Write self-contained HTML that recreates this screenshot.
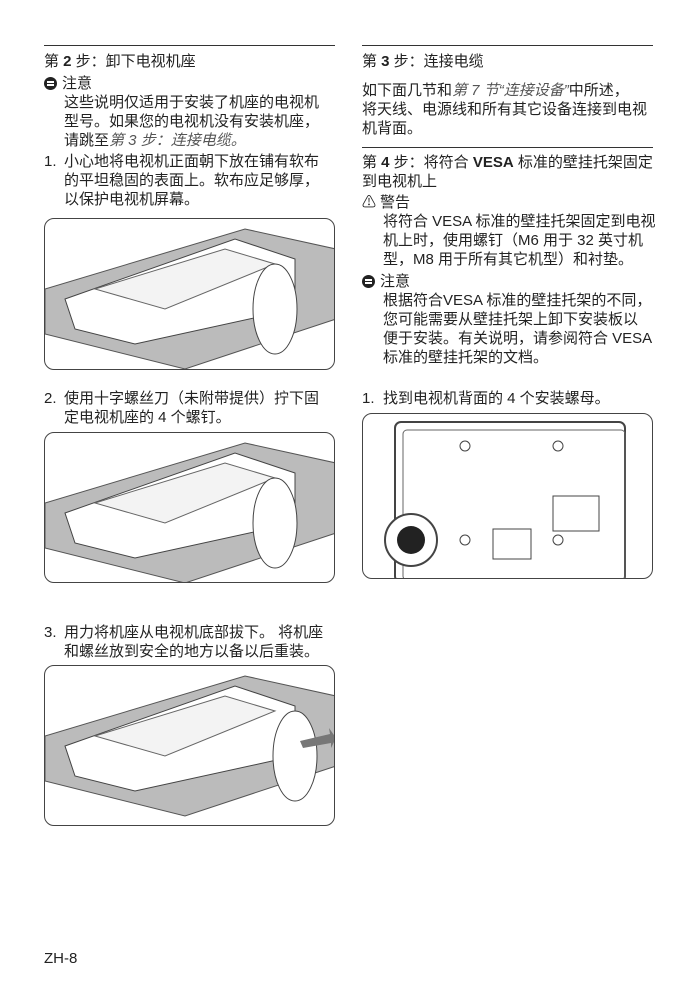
<!DOCTYPE html>
<html><head><meta charset="utf-8"><style>
body{margin:0;width:698px;height:989px;background:#fff;position:relative;font-family:"Liberation Sans","Noto Sans CJK SC",sans-serif;color:#222;font-size:15px;}
.t{position:absolute;line-height:19px;white-space:nowrap;}
.rule{position:absolute;height:1px;background:#333;}
.box{position:absolute;border:1px solid #444;border-radius:10px;overflow:hidden;box-sizing:border-box}
i{font-style:italic;color:#555}
.ic{display:inline-block;width:13px;height:13px;border-radius:50%;background:#222;vertical-align:-2px;margin-right:5px;position:relative}
.ic:after{content:"";position:absolute;left:3px;top:4px;width:7px;height:1.5px;background:#fff;box-shadow:0 3px 0 #fff}
</style></head><body>
<div class="rule" style="left:44px;top:45px;width:291px"></div>
<div class="t" style="left:44px;top:52px">第 <b>2</b> 步：卸下电视机座</div>
<div class="t" style="left:44px;top:74px"><span class="ic"></span>注意</div>
<div class="t" style="left:64px;top:93px">这些说明仅适用于安装了机座的电视机<br>型号。如果您的电视机没有安装机座，<br>请跳至<i>第 3 步：连接电缆。</i></div>
<div class="t" style="left:44px;top:152px">1.</div>
<div class="t" style="left:64px;top:152px">小心地将电视机正面朝下放在铺有软布<br>的平坦稳固的表面上。软布应足够厚，<br>以保护电视机屏幕。</div>

<div class="box" style="left:44px;top:218px;width:291px;height:152px">
<svg width="291" height="152"><polygon points="0,70 200,10 291,30 291,100 140,150 0,115" fill="#bbb" stroke="#555"/><polygon points="20,80 190,20 250,40 250,90 90,125 30,110" fill="#fff" stroke="#444"/><polygon points="50,70 180,30 230,45 120,90" fill="#f3f3f3" stroke="#666"/><ellipse cx="230" cy="90" rx="22" ry="45" fill="#fff" stroke="#444"/></svg></div>

<div class="t" style="left:44px;top:389px">2.</div>
<div class="t" style="left:64px;top:389px">使用十字螺丝刀（未附带提供）拧下固<br>定电视机座的 4 个螺钉。</div>
<div class="box" style="left:44px;top:432px;width:291px;height:151px">
<svg width="291" height="151"><polygon points="0,70 200,10 291,30 291,100 140,150 0,115" fill="#bbb" stroke="#555"/><polygon points="20,80 190,20 250,40 250,90 90,125 30,110" fill="#fff" stroke="#444"/><polygon points="50,70 180,30 230,45 120,90" fill="#f3f3f3" stroke="#666"/><ellipse cx="230" cy="90" rx="22" ry="45" fill="#fff" stroke="#444"/></svg></div>

<div class="t" style="left:44px;top:623px">3.</div>
<div class="t" style="left:64px;top:623px">用力将机座从电视机底部拔下。 将机座<br>和螺丝放到安全的地方以备以后重装。</div>
<div class="box" style="left:44px;top:665px;width:291px;height:161px">
<svg width="291" height="161"><polygon points="0,70 200,10 291,30 291,100 140,150 0,115" fill="#bbb" stroke="#555"/><polygon points="20,80 190,20 250,40 250,90 90,125 30,110" fill="#fff" stroke="#444"/><polygon points="50,70 180,30 230,45 120,90" fill="#f3f3f3" stroke="#666"/><ellipse cx="250" cy="90" rx="22" ry="45" fill="#fff" stroke="#444"/><polygon points="255,75 285,68 284,62 291,72 286,82 286,77 258,82" fill="#777"/></svg></div>

<div class="rule" style="left:362px;top:45px;width:291px"></div>
<div class="t" style="left:362px;top:52px">第 <b>3</b> 步：连接电缆</div>
<div class="t" style="left:362px;top:81px">如下面几节和<i>第 7 节“连接设备”</i>中所述，<br>将天线、电源线和所有其它设备连接到电视<br>机背面。</div>
<div class="rule" style="left:362px;top:147px;width:291px"></div>
<div class="t" style="left:362px;top:153px">第 <b>4</b> 步：将符合 <b>VESA</b> 标准的壁挂托架固定<br>到电视机上</div>
<div class="t" style="left:362px;top:193px"><span style="font-size:14px;margin-right:4px">⚠</span>警告</div>
<div class="t" style="left:383px;top:212px">将符合 VESA 标准的壁挂托架固定到电视<br>机上时，使用螺钉（M6 用于 32 英寸机<br>型，M8 用于所有其它机型）和衬垫。</div>
<div class="t" style="left:362px;top:272px"><span class="ic"></span>注意</div>
<div class="t" style="left:383px;top:291px">根据符合VESA 标准的壁挂托架的不同，<br>您可能需要从壁挂托架上卸下安装板以<br>便于安装。有关说明，请参阅符合 VESA<br>标准的壁挂托架的文档。</div>
<div class="t" style="left:362px;top:389px">1.</div>
<div class="t" style="left:383px;top:389px">找到电视机背面的 4 个安装螺母。</div>
<div class="box" style="left:362px;top:413px;width:291px;height:166px">
<svg width="291" height="166"><rect x="32" y="8" width="230" height="160" rx="6" fill="#fff" stroke="#444" stroke-width="2"/><rect x="40" y="16" width="222" height="150" rx="4" fill="none" stroke="#666"/><circle cx="102" cy="32" r="5" fill="none" stroke="#444"/><circle cx="195" cy="32" r="5" fill="none" stroke="#444"/><circle cx="102" cy="126" r="5" fill="none" stroke="#444"/><circle cx="195" cy="126" r="5" fill="none" stroke="#444"/><rect x="130" y="115" width="38" height="30" fill="none" stroke="#444"/><rect x="190" y="82" width="46" height="35" fill="none" stroke="#444"/><circle cx="48" cy="126" r="26" fill="#fff" stroke="#444" stroke-width="2"/><circle cx="48" cy="126" r="14" fill="#222"/></svg></div>

<div class="t" style="left:44px;top:949px">ZH-8</div>
</body></html>
